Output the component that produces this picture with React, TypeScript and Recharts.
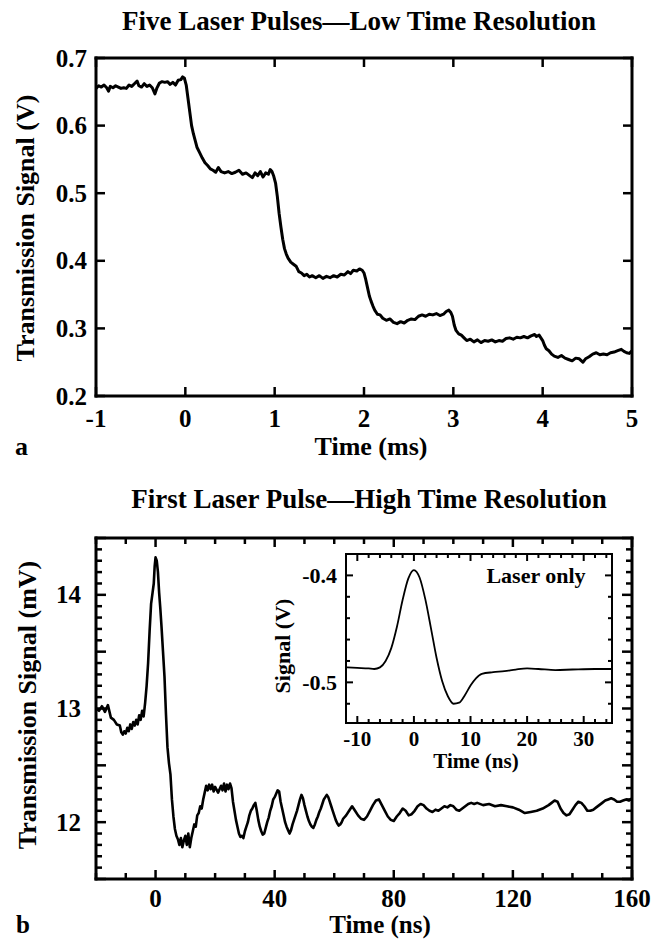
import React from 'react';
import { LineChart, Line, XAxis, YAxis } from 'recharts';

const FONT = '"Liberation Serif", "Times New Roman", serif';

// panel a - five laser pulses, time (ms) vs transmission (V)
const pulseTrace: [number, number][] = [
  [-1.0, 0.655], [-0.97, 0.659], [-0.94, 0.657], [-0.91, 0.66], [-0.88, 0.656], [-0.86, 0.651], [-0.84, 0.658],
  [-0.81, 0.656], [-0.78, 0.659], [-0.75, 0.657], [-0.72, 0.655], [-0.69, 0.656], [-0.66, 0.655], [-0.63, 0.66],
  [-0.6, 0.658], [-0.57, 0.662], [-0.54, 0.666], [-0.52, 0.659], [-0.49, 0.657], [-0.46, 0.662], [-0.43, 0.658],
  [-0.4, 0.66], [-0.37, 0.656], [-0.34, 0.647], [-0.32, 0.655], [-0.29, 0.663], [-0.26, 0.665], [-0.23, 0.664],
  [-0.2, 0.665], [-0.17, 0.661], [-0.14, 0.664], [-0.11, 0.66], [-0.08, 0.667], [-0.05, 0.668], [-0.03, 0.672],
  [-0.01, 0.67],
  [0.01, 0.66], [0.03, 0.64], [0.05, 0.62], [0.07, 0.6], [0.09, 0.588], [0.11, 0.578], [0.13, 0.568], [0.16, 0.56],
  [0.19, 0.552], [0.22, 0.545], [0.25, 0.541], [0.28, 0.536], [0.31, 0.534], [0.34, 0.531], [0.37, 0.538],
  [0.4, 0.532], [0.44, 0.53], [0.48, 0.532], [0.52, 0.529], [0.56, 0.531], [0.6, 0.534], [0.64, 0.528], [0.68, 0.53],
  [0.72, 0.526], [0.75, 0.523], [0.78, 0.53], [0.81, 0.526], [0.84, 0.532], [0.87, 0.524], [0.9, 0.53],
  [0.93, 0.528], [0.95, 0.535], [0.97, 0.532],
  [0.99, 0.525], [1.01, 0.515], [1.03, 0.495], [1.05, 0.47], [1.07, 0.45], [1.09, 0.432], [1.11, 0.418],
  [1.13, 0.41], [1.15, 0.404], [1.18, 0.398], [1.21, 0.395], [1.24, 0.392], [1.27, 0.384], [1.3, 0.382],
  [1.33, 0.378], [1.36, 0.38], [1.39, 0.376], [1.42, 0.378], [1.46, 0.375], [1.5, 0.378], [1.54, 0.374],
  [1.58, 0.377], [1.62, 0.375], [1.66, 0.378], [1.7, 0.376], [1.74, 0.38], [1.78, 0.379], [1.82, 0.384],
  [1.85, 0.381], [1.88, 0.386], [1.92, 0.385], [1.95, 0.388], [1.98, 0.386],
  [2.0, 0.382], [2.02, 0.372], [2.04, 0.36], [2.06, 0.348], [2.08, 0.34], [2.1, 0.333], [2.12, 0.327],
  [2.15, 0.321], [2.18, 0.32], [2.21, 0.315], [2.25, 0.312], [2.29, 0.314], [2.33, 0.309], [2.37, 0.307],
  [2.41, 0.31], [2.45, 0.308], [2.49, 0.312], [2.53, 0.314], [2.57, 0.313], [2.61, 0.318], [2.65, 0.32],
  [2.69, 0.318], [2.73, 0.321], [2.77, 0.32], [2.81, 0.322], [2.85, 0.319], [2.89, 0.321], [2.92, 0.325],
  [2.95, 0.327], [2.97, 0.324],
  [2.99, 0.318], [3.01, 0.305], [3.03, 0.297], [3.06, 0.292], [3.09, 0.29], [3.12, 0.286], [3.15, 0.282],
  [3.19, 0.284], [3.23, 0.28], [3.27, 0.283], [3.31, 0.279], [3.35, 0.282], [3.39, 0.281], [3.43, 0.283],
  [3.47, 0.28], [3.51, 0.282], [3.55, 0.281], [3.59, 0.285], [3.63, 0.286], [3.67, 0.284], [3.71, 0.287],
  [3.75, 0.286], [3.79, 0.288], [3.83, 0.286], [3.87, 0.289], [3.91, 0.291], [3.93, 0.288], [3.96, 0.29],
  [3.98, 0.286],
  [4.0, 0.282], [4.02, 0.275], [4.04, 0.27], [4.07, 0.267], [4.1, 0.262], [4.13, 0.259], [4.17, 0.257],
  [4.21, 0.26], [4.25, 0.256], [4.29, 0.254], [4.33, 0.252], [4.37, 0.256], [4.41, 0.255], [4.45, 0.25],
  [4.48, 0.255], [4.52, 0.258], [4.56, 0.262], [4.6, 0.264], [4.64, 0.261], [4.68, 0.262], [4.72, 0.261],
  [4.76, 0.264], [4.8, 0.265], [4.84, 0.267], [4.88, 0.269], [4.91, 0.266], [4.94, 0.264], [4.97, 0.263],
  [5.0, 0.267],
];
const pulseXTicks = [-1, 0, 1, 2, 3, 4, 5];
const pulseYTicks = [0.2, 0.3, 0.4, 0.5, 0.6, 0.7];

// panel b - first pulse, time (ns) vs transmission (mV)
const firstTrace: [number, number][] = [
  [-20, 13.0], [-19, 12.98], [-18, 13.02], [-17, 12.97], [-16, 13.03], [-15, 12.92], [-14, 12.9], [-13, 12.86],
  [-12, 12.85], [-11.5, 12.79], [-11, 12.77], [-10.5, 12.8], [-10, 12.78], [-9.5, 12.83], [-9, 12.8],
  [-8.5, 12.86], [-8, 12.82], [-7.5, 12.88], [-7, 12.85], [-6.5, 12.9], [-6, 12.86], [-5.5, 12.94], [-5, 12.9],
  [-4.5, 12.98], [-4, 12.93], [-3.5, 13.05], [-3, 13.2], [-2.5, 13.4], [-2, 13.68], [-1.5, 13.92], [-1, 14.02],
  [-0.6, 14.1], [-0.3, 14.25], [0, 14.33], [0.4, 14.3], [0.8, 14.2], [1.2, 14.02], [1.6, 13.88], [2, 13.72],
  [2.5, 13.5], [3, 13.28], [3.5, 12.95], [4, 12.66], [4.5, 12.52], [5, 12.42], [5.5, 12.2], [6, 12.05],
  [6.5, 11.94], [7, 11.88], [7.5, 11.85], [8, 11.8], [8.5, 11.86], [9, 11.78], [9.5, 11.84], [10, 11.88],
  [10.5, 11.8], [11, 11.9], [11.5, 11.78], [12, 11.86], [12.5, 11.92], [13, 11.98], [13.5, 11.96], [14, 12.06],
  [14.5, 12.08], [15, 12.14], [15.5, 12.12], [16, 12.2], [16.5, 12.26], [17, 12.32], [17.5, 12.28], [18, 12.33],
  [18.5, 12.29], [19, 12.33], [19.5, 12.27], [20, 12.31], [21, 12.26], [22, 12.32], [22.5, 12.28], [23, 12.34],
  [23.5, 12.27], [24, 12.33], [24.5, 12.29], [25, 12.34], [25.5, 12.3], [26, 12.18], [26.5, 12.1], [27, 12.02],
  [27.5, 11.96], [28, 11.9], [28.5, 11.87], [29, 11.88], [29.5, 11.86], [30, 11.92], [30.5, 11.96], [31, 12.0],
  [31.5, 12.06], [32, 12.1], [32.5, 12.12], [33, 12.15], [33.5, 12.17], [34, 12.1], [34.5, 12.02], [35, 11.96],
  [35.5, 11.92], [36, 11.89], [36.5, 11.9], [37, 11.95], [37.5, 12.0], [38, 12.04], [38.5, 12.1], [39, 12.14],
  [39.5, 12.2], [40, 12.22], [40.5, 12.25], [41, 12.28], [41.5, 12.27], [42, 12.18], [42.5, 12.12], [43, 12.06],
  [43.5, 12.0], [44, 11.96], [44.5, 11.93], [45, 11.9], [45.5, 11.93], [46, 11.98], [46.5, 12.02], [47, 12.06],
  [47.5, 12.1], [48, 12.15], [48.5, 12.2], [49, 12.24], [49.5, 12.21], [50, 12.15], [50.5, 12.1], [51, 12.05],
  [51.5, 12.01], [52, 11.98], [52.5, 11.96], [53, 11.95], [53.5, 11.98], [54, 12.02], [54.5, 12.05], [55, 12.09],
  [55.5, 12.12], [56, 12.16], [56.5, 12.2], [57, 12.22], [57.5, 12.24], [58, 12.22], [58.5, 12.18], [59, 12.14],
  [59.5, 12.1], [60, 12.06], [60.5, 12.02], [61, 11.99], [61.5, 11.97], [62, 11.98], [62.5, 12.0], [63, 12.03],
  [64, 12.06], [65, 12.1], [66, 12.14], [66.5, 12.12], [67, 12.1], [68, 12.06], [69, 12.03], [70, 12.02],
  [71, 12.05], [72, 12.1], [73, 12.15], [74, 12.19], [75, 12.2], [76, 12.15], [77, 12.1], [78, 12.05],
  [79, 12.02], [80, 12.01], [81, 12.05], [82, 12.08], [83, 12.12], [84, 12.1], [85, 12.06], [86, 12.07],
  [87, 12.1], [88, 12.14], [89, 12.16], [90, 12.15], [91, 12.12], [92, 12.1], [93, 12.09], [94, 12.11],
  [95, 12.1], [96, 12.12], [97, 12.14], [98, 12.13], [99, 12.15], [100, 12.14], [101, 12.11], [102, 12.1],
  [103, 12.12], [104, 12.14], [105, 12.16], [106, 12.17], [107, 12.16], [108, 12.17], [110, 12.15],
  [112, 12.16], [114, 12.14], [116, 12.15], [118, 12.14], [120, 12.13], [122, 12.11], [124, 12.08],
  [126, 12.09], [128, 12.1], [130, 12.12], [132, 12.15], [133, 12.17], [134, 12.19], [135, 12.18], [136, 12.12],
  [137, 12.08], [138, 12.06], [139, 12.07], [140, 12.11], [141, 12.15], [142, 12.18], [143, 12.17],
  [144, 12.14], [145, 12.1], [146, 12.1], [147, 12.11], [148, 12.13], [149, 12.15], [150, 12.17], [151, 12.19],
  [152, 12.2], [153, 12.21], [154, 12.2], [155, 12.18], [156, 12.18], [157, 12.19], [158, 12.2], [159, 12.19],
  [160, 12.21],
];
const firstXTicks = [-20, -10, 0, 10, 20, 30, 40, 50, 60, 70, 80, 90, 100, 110, 120, 130, 140, 150, 160];
const firstXLabels = [0, 40, 80, 120, 160];
const firstYTicks = [
  11.5, 11.6, 11.7, 11.8, 11.9, 12.0, 12.1, 12.2, 12.3, 12.4, 12.5, 12.6, 12.7, 12.8, 12.9, 13.0,
  13.1, 13.2, 13.3, 13.4, 13.5, 13.6, 13.7, 13.8, 13.9, 14.0, 14.1, 14.2, 14.3, 14.4, 14.5,
];
const firstYLabels = [12, 13, 14];
const firstYMajor = [11.5, 12, 12.5, 13, 13.5, 14, 14.5];

// inset - laser only, time (ns) vs signal (V)
const laserTrace: [number, number][] = [
  [-12, -0.486], [-10, -0.4865], [-8, -0.487], [-7, -0.4875], [-6, -0.486], [-5, -0.48], [-4, -0.468],
  [-3, -0.448], [-2, -0.423], [-1, -0.403], [0, -0.395], [1, -0.402], [2, -0.422], [3, -0.449], [4, -0.477],
  [5, -0.499], [6, -0.513], [7, -0.52], [8, -0.519], [9, -0.512], [10, -0.503], [11, -0.496], [12, -0.492],
  [14, -0.4905], [16, -0.4895], [18, -0.488], [20, -0.487], [22, -0.4875], [25, -0.4885], [28, -0.488],
  [32, -0.4875], [35, -0.4875],
];
const laserXTicks = [-12, -10, -8, -6, -4, -2, 0, 2, 4, 6, 8, 10, 12, 14, 16, 18, 20, 22, 24, 26, 28, 30, 32, 34];
const laserXLabels = [-10, 0, 10, 20, 30];
const laserYTicks = [-0.52, -0.5, -0.48, -0.46, -0.44, -0.42, -0.4];
const laserYLabels = [-0.5, -0.4];

const toRows = (pts: [number, number][]) => pts.map(([t, v]) => ({ t, v }));

const has = (list: number[] | undefined, v: number) => !!list && list.some((l) => Math.abs(l - v) < 1e-9);

type Side = 'bottom' | 'top' | 'left' | 'right';
interface TickOpts {
  side: Side;
  len: number;
  minorLen?: number;
  major?: number[];
  labels?: number[];
  fmt?: (v: number) => string;
  gap?: number;
  size?: number;
  sw?: number;
}

// inward tick marks drawn by hand, plus optional label outside the frame
const edgeTick = (o: TickOpts) => (p: any) => {
  const { x, y, payload } = p;
  const v = payload.value as number;
  const len = o.major && !has(o.major, v) ? (o.minorLen ?? o.len) : o.len;
  const lbl = has(o.labels, v) ? (o.fmt ? o.fmt(v) : String(v)) : '';
  const sw = o.sw ?? 2.5;
  const txt = { fontFamily: FONT, fontWeight: 700, fontSize: o.size ?? 25, fill: '#000' };
  const gap = o.gap ?? 0;
  if (o.side === 'bottom' || o.side === 'top') {
    const dir = o.side === 'bottom' ? -1 : 1;
    return (
      <g>
        <line x1={x} y1={y} x2={x} y2={y + dir * len} stroke="#000" strokeWidth={sw} />
        {lbl && (
          <text x={x} y={y + gap} textAnchor="middle" {...txt}>
            {lbl}
          </text>
        )}
      </g>
    );
  }
  const dir = o.side === 'left' ? 1 : -1;
  return (
    <g>
      <line x1={x} y1={y} x2={x + dir * len} y2={y} stroke="#000" strokeWidth={sw} />
      {lbl && (
        <text x={x - gap} y={y} dy="0.34em" textAnchor="end" {...txt}>
          {lbl}
        </text>
      )}
    </g>
  );
};

const frame = (w: number) => ({ stroke: '#000', strokeWidth: w, strokeLinecap: 'square' as const });

// axes are 1px deep (zero-size axes are not drawn), margins take the rest
const FivePulses = () => (
  <LineChart width={658} height={470} data={toRows(pulseTrace)} margin={{ top: 57, right: 25, bottom: 73, left: 95 }}>
    <XAxis xAxisId="bottom" dataKey="t" type="number" domain={[-1, 5]} ticks={pulseXTicks} interval={0}
      allowDataOverflow height={1} tickSize={0} tickMargin={0} tickLine={false} axisLine={frame(3)}
      tick={edgeTick({ side: 'bottom', len: 9, labels: pulseXTicks, gap: 31, size: 25 })} />
    <XAxis xAxisId="top" orientation="top" dataKey="t" type="number" domain={[-1, 5]} ticks={pulseXTicks}
      interval={0} allowDataOverflow height={1} tickSize={0} tickMargin={0} tickLine={false} axisLine={frame(3)}
      tick={edgeTick({ side: 'top', len: 9 })} />
    <YAxis yAxisId="left" type="number" domain={[0.2, 0.7]} ticks={pulseYTicks} interval={0} allowDataOverflow
      width={1} tickSize={0} tickMargin={0} tickLine={false} axisLine={frame(3)}
      tick={edgeTick({ side: 'left', len: 9, labels: pulseYTicks, fmt: (v) => v.toFixed(1), gap: 9, size: 25 })} />
    <YAxis yAxisId="right" orientation="right" type="number" domain={[0.2, 0.7]} ticks={pulseYTicks} interval={0}
      allowDataOverflow width={1} tickSize={0} tickMargin={0} tickLine={false} axisLine={frame(3)}
      tick={edgeTick({ side: 'right', len: 9 })} />
    <Line xAxisId="bottom" yAxisId="left" dataKey="v" type="linear" stroke="#000" strokeWidth={3}
      strokeLinejoin="round" dot={false} isAnimationActive={false} />
  </LineChart>
);

const FirstPulse = () => (
  <LineChart width={658} height={471} data={toRows(firstTrace)} margin={{ top: 67, right: 25, bottom: 61, left: 95 }}>
    <XAxis xAxisId="bottom" dataKey="t" type="number" domain={[-20, 160]} ticks={firstXTicks} interval={0}
      allowDataOverflow height={1} tickSize={0} tickMargin={0} tickLine={false} axisLine={frame(3)}
      tick={edgeTick({ side: 'bottom', len: 9, minorLen: 6, major: firstXLabels, labels: firstXLabels, gap: 28, size: 25 })} />
    <XAxis xAxisId="top" orientation="top" dataKey="t" type="number" domain={[-20, 160]} ticks={firstXTicks}
      interval={0} allowDataOverflow height={1} tickSize={0} tickMargin={0} tickLine={false} axisLine={frame(3)}
      tick={edgeTick({ side: 'top', len: 9, minorLen: 6, major: firstXLabels })} />
    <YAxis yAxisId="left" type="number" domain={[11.5, 14.5]} ticks={firstYTicks} interval={0} allowDataOverflow
      width={1} tickSize={0} tickMargin={0} tickLine={false} axisLine={frame(3)}
      tick={edgeTick({ side: 'left', len: 10, minorLen: 6, major: firstYMajor, labels: firstYLabels, gap: 15, size: 25 })} />
    <YAxis yAxisId="right" orientation="right" type="number" domain={[11.5, 14.5]} ticks={firstYTicks} interval={0}
      allowDataOverflow width={1} tickSize={0} tickMargin={0} tickLine={false} axisLine={frame(3)}
      tick={edgeTick({ side: 'right', len: 10, minorLen: 6, major: firstYMajor })} />
    <Line xAxisId="bottom" yAxisId="left" dataKey="v" type="linear" stroke="#000" strokeWidth={2.6}
      strokeLinejoin="round" dot={false} isAnimationActive={false} />
  </LineChart>
);

const LaserInset = () => (
  <LineChart width={370} height={235} data={toRows(laserTrace)} margin={{ top: 8, right: 27, bottom: 56, left: 75 }}>
    <XAxis xAxisId="bottom" dataKey="t" type="number" domain={[-12, 35]} ticks={laserXTicks} interval={0}
      allowDataOverflow height={1} tickSize={0} tickMargin={0} tickLine={false} axisLine={frame(2)}
      tick={edgeTick({ side: 'bottom', len: 7, minorLen: 4, major: laserXLabels, labels: laserXLabels, gap: 23, size: 21, sw: 2 })} />
    <XAxis xAxisId="top" orientation="top" dataKey="t" type="number" domain={[-12, 35]} ticks={laserXTicks}
      interval={0} allowDataOverflow height={1} tickSize={0} tickMargin={0} tickLine={false} axisLine={frame(2)}
      tick={edgeTick({ side: 'top', len: 7, minorLen: 4, major: laserXLabels, sw: 2 })} />
    <YAxis yAxisId="left" type="number" domain={[-0.538, -0.38]} ticks={laserYTicks} interval={0} allowDataOverflow
      width={1} tickSize={0} tickMargin={0} tickLine={false} axisLine={frame(2)}
      tick={edgeTick({ side: 'left', len: 7, minorLen: 4, major: laserYLabels, labels: laserYLabels, fmt: (v) => v.toFixed(1), gap: 9, size: 22, sw: 2 })} />
    <YAxis yAxisId="right" orientation="right" type="number" domain={[-0.538, -0.38]} ticks={laserYTicks} interval={0}
      allowDataOverflow width={1} tickSize={0} tickMargin={0} tickLine={false} axisLine={frame(2)}
      tick={edgeTick({ side: 'right', len: 7, minorLen: 4, major: laserYLabels, sw: 2 })} />
    <Line xAxisId="bottom" yAxisId="left" dataKey="v" type="monotone" stroke="#000" strokeWidth={1.8}
      dot={false} isAnimationActive={false} />
  </LineChart>
);

const T = { fontFamily: FONT, fontWeight: 700, fill: '#000' };

export default function App() {
  return (
    <div style={{ position: 'absolute', left: 0, top: 0, width: 658, height: 941, background: '#fff' }}>
      <div style={{ position: 'absolute', left: 0, top: 0 }}>
        <FivePulses />
      </div>
      <div style={{ position: 'absolute', left: 0, top: 470 }}>
        <FirstPulse />
      </div>
      <div style={{ position: 'absolute', left: 270, top: 545 }}>
        <LaserInset />
      </div>
      <svg width={658} height={941} style={{ position: 'absolute', left: 0, top: 0, pointerEvents: 'none' }}>
        <text x={359} y={30} textAnchor="middle" fontSize={27} {...T}>Five Laser Pulses—Low Time Resolution</text>
        <text transform="translate(34,228) rotate(-90)" textAnchor="middle" fontSize={26} {...T}>Transmission Signal (V)</text>
        <text x={371} y={455} textAnchor="middle" fontSize={26} {...T}>Time (ms)</text>
        <text x={15} y={455} fontSize={26} {...T}>a</text>

        <text x={369} y={508} textAnchor="middle" fontSize={27} {...T}>First Laser Pulse—High Time Resolution</text>
        <text transform="translate(36,705) rotate(-90)" textAnchor="middle" fontSize={26} {...T}>Transmission Signal (mV)</text>
        <text x={380} y={933} textAnchor="middle" fontSize={25} {...T}>Time (ns)</text>
        <text x={16} y={933} fontSize={25} {...T}>b</text>

        <text x={536} y={583} textAnchor="middle" fontSize={22} {...T}>Laser only</text>
        <text transform="translate(290,646) rotate(-90)" textAnchor="middle" fontSize={22} {...T}>Signal (V)</text>
        <text x={476} y={768} textAnchor="middle" fontSize={21} {...T}>Time (ns)</text>
      </svg>
    </div>
  );
}
